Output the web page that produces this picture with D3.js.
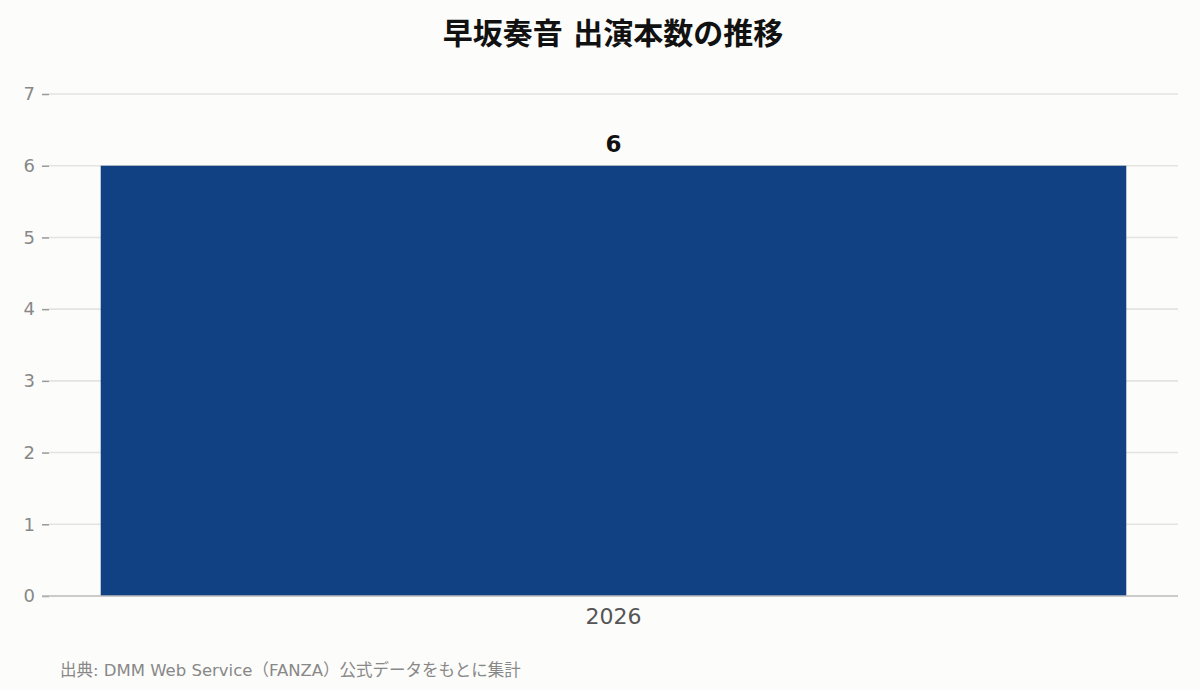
<!DOCTYPE html>
<html>
<head>
<meta charset="utf-8">
<script src="https://cdn.jsdelivr.net/npm/d3@7"></script>
<style>
  body { margin: 0; background: #fcfcfa; }
  svg { display: block; font-family: "DejaVu Sans", "Noto Sans CJK JP", sans-serif; }
</style>
</head>
<body>
<div id="chart"></div>
<script>
var years = ["2026"];
var counts = [6];
var yTicks = [0, 1, 2, 3, 4, 5, 6, 7];
var title = "早坂奏音 出演本数の推移";
var source = "出典: DMM Web Service（FANZA）公式データをもとに集計";

var W = 1200, H = 690;
var m = {top: 94, right: 22, bottom: 94, left: 49};
var font = "'DejaVu Sans', 'Noto Sans CJK JP', sans-serif";

var svg = d3.select("#chart").append("svg")
    .attr("width", W).attr("height", H);

svg.append("rect").attr("width", W).attr("height", H).attr("fill", "#fcfcfa");

var x = d3.scaleBand().domain(years)
    .range([m.left, W - m.right])
    .paddingInner(0.048).paddingOuter(0.048);
var y = d3.scaleLinear().domain([0, 7]).range([H - m.bottom, m.top]);

// gridlines
svg.append("g").selectAll("line")
    .data(yTicks.filter(function(d){ return d > 0; }))
    .enter().append("line")
    .attr("x1", m.left).attr("x2", W - m.right)
    .attr("y1", function(d){ return y(d); })
    .attr("y2", function(d){ return y(d); })
    .attr("stroke", "#e3e3df").attr("stroke-width", 1.6);

// y axis
var yAxis = svg.append("g")
    .attr("transform", "translate(" + m.left + ",0)")
    .call(d3.axisLeft(y).tickValues(yTicks).tickFormat(d3.format("d")).tickSize(7).tickPadding(7));
yAxis.select(".domain").remove();
yAxis.selectAll(".tick line").attr("stroke", "#999").attr("stroke-width", 1.5);
yAxis.selectAll(".tick text").attr("fill", "#888").attr("font-size", 18)
    .attr("font-family", font);

// bars
svg.append("g").selectAll("rect")
    .data(counts)
    .enter().append("rect")
    .attr("x", function(d, i){ return x(years[i]); })
    .attr("width", x.bandwidth())
    .attr("y", function(d){ return y(d); })
    .attr("height", function(d){ return y(0) - y(d); })
    .attr("fill", "#114182");

// value labels
svg.append("g").selectAll("text")
    .data(counts)
    .enter().append("text")
    .attr("x", function(d, i){ return x(years[i]) + x.bandwidth() / 2; })
    .attr("y", function(d){ return y(d) - 14; })
    .attr("text-anchor", "middle")
    .attr("font-size", 23).attr("font-weight", "bold").attr("fill", "#111")
    .attr("font-family", font)
    .text(function(d){ return d; });

// x axis
var xAxis = svg.append("g")
    .attr("transform", "translate(0," + y(0) + ")")
    .call(d3.axisBottom(x).tickSize(0).tickPadding(12));
xAxis.select(".domain").attr("stroke", "#bbb").attr("stroke-width", 1.6)
    .attr("d", "M" + (m.left - 7) + ",0H" + (W - m.right));
xAxis.selectAll(".tick text").attr("fill", "#555").attr("font-size", 22)
    .attr("font-family", font);

// title
svg.append("text")
    .attr("x", 613).attr("y", 44)
    .attr("text-anchor", "middle")
    .attr("font-size", 30).attr("font-weight", "bold").attr("fill", "#111")
    .text(title);

// source
svg.append("text")
    .attr("x", 60).attr("y", 676)
    .attr("font-size", 16.5).attr("fill", "#888")
    .text(source);
</script>
</body>
</html>
